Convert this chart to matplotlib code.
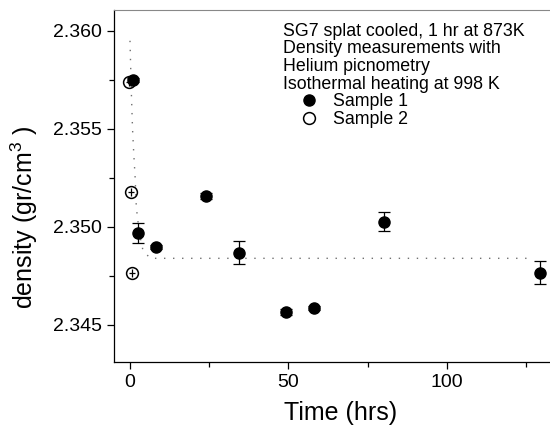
import matplotlib
matplotlib.use("Agg")
import matplotlib.pyplot as plt
from matplotlib.ticker import MultipleLocator, FormatStrFormatter

plt.rcParams['font.family'] = ['Liberation Sans', 'DejaVu Sans']
plt.rcParams['mathtext.fontset'] = 'custom'
plt.rcParams['mathtext.rm'] = 'Liberation Sans'
plt.rcParams['mathtext.it'] = 'Liberation Sans'

# sample 1 (filled)
t1 = [1.0, 2.6, 8.2, 23.9, 34.5, 49.2, 58.1, 80.3, 129.5]
d1 = [2.3575, 2.34968, 2.34896, 2.35158, 2.34869, 2.34568, 2.34588, 2.35027, 2.34767]
e1 = [0.0001, 0.0005, 0.0001, 0.00015, 0.0006, 0.00015, 0.0001, 0.0005, 0.0006]

# sample 2 (open)
t2 = [-0.3, 0.3, 0.7]
d2 = [2.35741, 2.35180, 2.34767]
e2 = [0.0002, 0.0002, 0.0002]

# dotted fit curve
tf = [0, 0.4, 0.8, 1.2, 1.6, 2.0, 2.5, 3.2, 4.1, 5.2, 6.5, 127.5]
df = [2.3595, 2.3570, 2.3550, 2.3537, 2.3526, 2.3510, 2.3503, 2.3495,
      2.3488, 2.3486, 2.3484, 2.3484]

header = ["SG7 splat cooled, 1 hr at 873K",
          "Density measurements with",
          "Helium picnometry",
          "Isothermal heating at 998 K"]

fig = plt.figure(figsize=(5.5, 4.26), dpi=100)
ax = fig.add_axes([114/550, 64/426, 436/550, 352/426])

ax.plot(tf, df, color='#707070', lw=1.0, linestyle=(0, (1, 5.5)), zorder=1)

ax.errorbar(t1, d1, yerr=e1, fmt='none', ecolor='black', elinewidth=0.9,
            capsize=4.5, capthick=0.9, zorder=2)
ax.plot(t1, d1, 'o', color='black', markersize=8, label='Sample 1', zorder=3)

ax.errorbar(t2, d2, yerr=e2, xerr=1.0, fmt='none', ecolor='black',
            elinewidth=0.9, capsize=0, zorder=2)
ax.plot(t2, d2, 'o', markerfacecolor='none', markeredgecolor='black',
        markeredgewidth=1.1, markersize=8.5, label='Sample 2', zorder=3)

ax.set_xlim(-5.05, 132.6)
ax.set_ylim(2.34311, 2.36107)

ax.xaxis.set_major_locator(MultipleLocator(50))
ax.xaxis.set_minor_locator(MultipleLocator(25))
ax.yaxis.set_major_locator(MultipleLocator(0.005))
ax.yaxis.set_minor_locator(MultipleLocator(0.0025))
ax.yaxis.set_major_formatter(FormatStrFormatter('%.3f'))

ax.tick_params(which='major', direction='out', length=5, width=0.9, labelsize=14)
ax.tick_params(which='minor', direction='out', length=3.5, width=0.9)

ax.spines['right'].set_visible(False)
ax.spines['top'].set_color('#888888')
ax.spines['left'].set_linewidth(0.9)
ax.spines['bottom'].set_linewidth(0.9)

ax.set_xlabel('Time (hrs)', fontsize=18)
ax.set_ylabel('density (gr/cm$^{3}$ )', fontsize=18)
ax.xaxis.set_label_coords(0.52, -0.112)
ax.yaxis.set_label_coords(-0.17, 0.41)

for i, line in enumerate(header):
    fig.text(283/550, 1 - (31 + 17.7*i)/426, line, fontsize=12.8, va='center', ha='left')

ax.legend(loc='upper left', bbox_to_anchor=(300/550, 1 - 93/426),
          bbox_transform=fig.transFigure, frameon=False, fontsize=12.8,
          handlelength=1.0, handletextpad=0.85, labelspacing=0.05,
          borderpad=0, borderaxespad=0)

fig.savefig('out.png', dpi=100)
